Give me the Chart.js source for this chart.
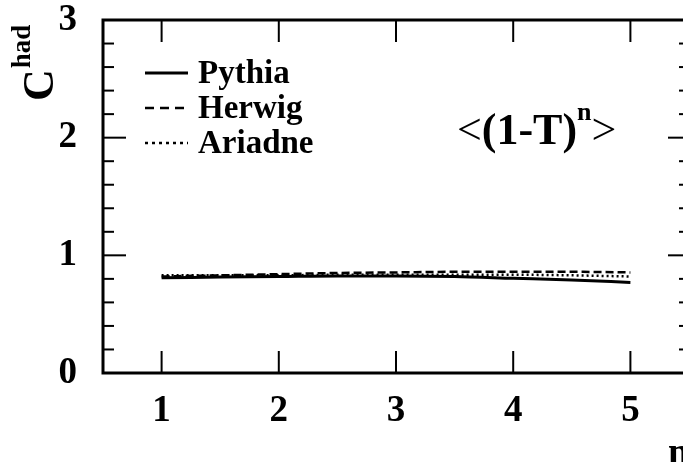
<!DOCTYPE html>
<html>
<head>
<meta charset="utf-8">
<script src="https://cdn.jsdelivr.net/npm/chart.js@4.4.1/dist/chart.umd.min.js"></script>
<style>
  html, body { margin: 0; padding: 0; background: #fff; overflow: hidden; }
  #wrap { width: 700px; height: 462px; }
</style>
</head>
<body>
<div id="wrap"><canvas id="c" width="700" height="462"></canvas></div>
<script>
// moments of (1-T)^n, hadronisation correction per generator
const nValues = [1, 1.5, 2, 2.5, 3, 3.5, 4, 4.5, 5];
const pythia  = [0.81, 0.815, 0.82, 0.825, 0.825, 0.82, 0.805, 0.79, 0.77];
const herwig  = [0.82, 0.83, 0.84, 0.85, 0.855, 0.86, 0.86, 0.86, 0.855];
const ariadne = [0.83, 0.83, 0.83, 0.835, 0.835, 0.835, 0.835, 0.83, 0.82];

const xTicks = [1, 2, 3, 4, 5];
const yTicks = [0, 1, 2, 3];

const SERIF = '"Liberation Serif", "DejaVu Serif", serif';

function pts(ys) {
  return nValues.map((n, i) => ({ x: n, y: ys[i] }));
}

// frame, inward ticks, legend and titles
const decor = {
  id: 'decor',
  afterDatasetsDraw(chart) {
    const { ctx, chartArea: a, scales: { x, y } } = chart;
    const seg = (x1, y1, x2, y2) => { ctx.beginPath(); ctx.moveTo(x1, y1); ctx.lineTo(x2, y2); ctx.stroke(); };
    ctx.save();
    ctx.strokeStyle = '#000';
    ctx.lineWidth = 2;

    xTicks.forEach(v => {
      const px = x.getPixelForValue(v);
      seg(px, a.top, px, a.top + 22);
      seg(px, a.bottom, px, a.bottom - 22);
    });
    for (let k = 0; k <= 15; k++) {
      const v = k * 0.2;
      const py = y.getPixelForValue(v);
      const major = k % 5 === 0;
      seg(a.left, py, a.left + (major ? 23 : 11), py);
      seg(a.right, py, a.right - (major ? 21 : 10), py);
    }

    ctx.lineWidth = 3;
    ctx.strokeRect(a.left, a.top, a.right - a.left, a.bottom - a.top);

    // legend
    ctx.fillStyle = '#000';
    ctx.font = 'bold 33px ' + SERIF;
    ctx.textBaseline = 'middle';
    ctx.textAlign = 'left';
    const legY = [73, 108, 143];
    chart.data.datasets.forEach((ds, i) => {
      ctx.lineWidth = ds.borderWidth;
      ctx.setLineDash(ds.legendDash || []);
      seg(145, legY[i], 188, legY[i]);
      ctx.setLineDash([]);
      ctx.fillText(ds.label, 198, legY[i] + 1);
    });

    // observable label  <(1-T)^n>
    ctx.textBaseline = 'alphabetic';
    let tx = 457;
    const base = 144;
    ctx.font = '44px ' + SERIF;
    ctx.fillText('<', tx, base);
    tx += ctx.measureText('<').width;
    ctx.font = 'bold 44px ' + SERIF;
    ctx.fillText('(1-T)', tx, base);
    tx += ctx.measureText('(1-T)').width;
    ctx.font = 'bold 26px ' + SERIF;
    ctx.fillText('n', tx, base - 24);
    tx += ctx.measureText('n').width;
    ctx.font = '44px ' + SERIF;
    ctx.fillText('>', tx, base);

    // y title  C^had
    ctx.save();
    ctx.translate(53, 101);
    ctx.rotate(-Math.PI / 2);
    ctx.font = 'bold 44px ' + SERIF;
    ctx.fillText('C', 0, 0);
    const cw = ctx.measureText('C').width;
    ctx.font = 'bold 27px ' + SERIF;
    ctx.fillText('had', cw + 1, -23);
    ctx.restore();

    // x title
    ctx.font = 'bold 38px ' + SERIF;
    ctx.fillText('n', 668, 464);

    ctx.restore();
  }
};

new Chart(document.getElementById('c'), {
  type: 'line',
  data: {
    datasets: [
      { label: 'Pythia', data: pts(pythia), borderColor: '#000', borderWidth: 3, borderDash: [], legendDash: [] },
      { label: 'Herwig', data: pts(herwig), borderColor: '#000', borderWidth: 2.5, borderDash: [8, 4], legendDash: [9, 6] },
      { label: 'Ariadne', data: pts(ariadne), borderColor: '#000', borderWidth: 2.5, borderDash: [2, 3], legendDash: [3, 4] }
    ]
  },
  options: {
    responsive: false,
    animation: false,
    events: [],
    layout: { padding: { top: 0, right: 11, left: 0, bottom: 0 } },
    elements: {
      point: { radius: 0 },
      line: { tension: 0.4, cubicInterpolationMode: 'monotone', fill: false }
    },
    plugins: { legend: { display: false }, tooltip: { enabled: false } },
    scales: {
      x: {
        type: 'linear',
        min: 0.5,
        max: 5.5,
        afterBuildTicks: s => { s.ticks = xTicks.map(v => ({ value: v })); },
        afterFit: s => { s.height = 89; },
        grid: { display: false, drawTicks: false },
        border: { display: false },
        ticks: { padding: 16, color: '#000', font: { family: SERIF, weight: 'bold', size: 37 } }
      },
      y: {
        min: 0,
        max: 3,
        afterBuildTicks: s => { s.ticks = yTicks.map(v => ({ value: v })); },
        afterFit: s => { s.width = 103; s.paddingTop = 20; },
        grid: { display: false, drawTicks: false },
        border: { display: false },
        ticks: { padding: 26, color: '#000', font: { family: SERIF, weight: 'bold', size: 37 } }
      }
    }
  },
  plugins: [decor]
});
</script>
</body>
</html>
